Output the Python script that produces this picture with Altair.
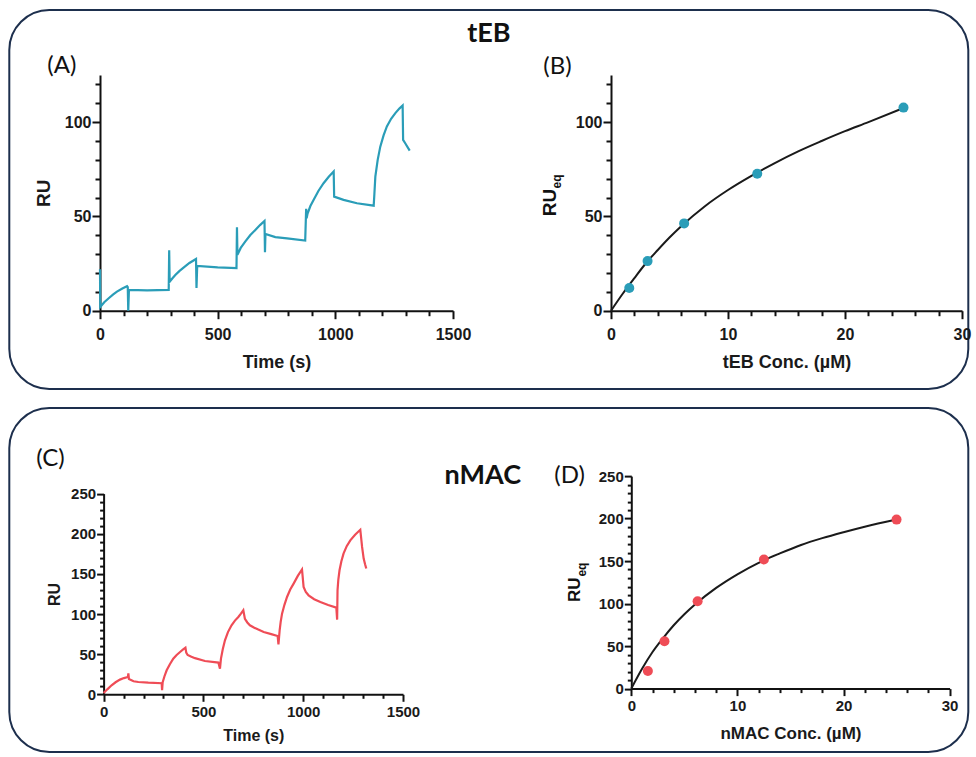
import altair as alt
import pandas as pd

TEAL = "#2a9db8"
RED = "#ef4c56"
FRAME = "#1d2f4d"
FONT = "Liberation Sans"
TFONT = "Lato"

group_titles = ["tEB", "nMAC"]
panel_labels = ["(A)", "(B)", "(C)", "(D)"]

# ---- Panel A: tEB sensorgram ----
a_time = [0, 1, 18, 37, 55, 72, 95, 115, 118, 120, 123, 200, 292,
          294, 296, 308, 320, 337, 355, 380, 408, 410, 413, 500, 580,
          582, 584, 598, 617, 638, 660, 680, 699, 701, 703, 745, 795, 872,
          876, 878, 882, 894, 908, 928, 950, 972, 993, 995, 1035, 1092, 1163,
          1166, 1170, 1180, 1191, 1205, 1219, 1237, 1255, 1272, 1286, 1288, 1297, 1316]
a_ru = [22, 2, 4.5, 6.6, 8.5, 10.1, 11.8, 13.0, 12.5, 0, 11, 10.8, 11,
        32, 15.4, 17.2, 18.9, 21, 22.8, 25.3, 27.4, 12, 23.7, 23.0, 22.6,
        44.3, 29.6, 33.3, 36.6, 40, 42.8, 45.4, 47.6, 31, 40.7, 39, 38.4, 37.2,
        54, 49, 51.5, 55.5, 58.8, 63.5, 67.6, 71, 73.8, 60.5, 58.8, 57, 55.7,
        62, 71.1, 80, 87, 93, 97.7, 101.8, 104.8, 107.2, 108.8, 90.6, 88.8, 84.9]

# ---- Panel B: tEB equilibrium ----
b_conc = [1.5625, 3.125, 6.25, 12.5, 25]
b_ru = [12.0, 26.3, 46.3, 72.6, 107.7]
b_fit_conc = [0, 1, 2, 3, 4, 5, 6, 8, 10, 12, 14, 16, 18, 20, 22, 25]
b_fit_ru = [0, 9, 17.3, 25.3, 32.2, 38.8, 44.8, 55.3, 64, 71.5, 78.3, 84.5, 90, 95.2, 100, 107.5]

# ---- Panel C: nMAC sensorgram ----
c_time = [0, 20, 40, 60, 82, 102, 122, 124, 127, 150, 174, 224, 291, 293,
          296, 305, 316, 332, 349, 366, 383, 397, 410, 414, 421, 440, 458, 508, 575, 583,
          588, 597, 608, 623, 641, 658, 675, 688, 700, 708, 720, 733, 755, 775, 802, 840, 872, 876,
          882, 887, 894, 906, 919, 935, 952, 973, 994, 1002, 1013, 1027, 1055, 1086, 1125, 1166, 1170,
          1172, 1176, 1182, 1191, 1202, 1218, 1236, 1260, 1286, 1295, 1303, 1310, 1316]
c_ru = [1.5, 6.5, 11.2, 15, 18.3, 20.2, 21.6, 26, 19, 16.3, 15.3, 14.5, 13.8, 5,
        15, 22.5, 29.9, 37.5, 44.4, 49, 52.7, 55.6, 58, 52, 49, 46.8, 45, 41.5, 39.5, 32,
        44.4, 56, 67.3, 77.5, 86, 91.8, 96.3, 100.5, 104.6, 94, 89.5, 86, 83, 80.6, 77.6, 75, 72.6, 62.3,
        79.7, 90, 100.5, 111.5, 121.2, 130.5, 137.9, 147.5, 155.5, 133.7, 127.5, 123.3, 118.5, 115, 111.3, 108, 93,
        129.5, 143, 154.5, 165.5, 175.2, 184.5, 191.8, 198.8, 205, 183.5, 169, 162, 156.6]

# ---- Panel D: nMAC equilibrium ----
d_conc = [1.5625, 3.125, 6.25, 12.5, 25]
d_ru = [20.8, 55.7, 102.7, 151.8, 198.8]
d_fit_conc = [0, 1, 2, 3, 4, 5, 6, 8, 10, 12, 14, 16, 18, 20, 22, 25]
d_fit_ru = [0, 23, 43, 59.5, 74.5, 87.5, 99, 118.5, 134.5, 148, 159, 169, 177, 184, 190.5, 199]

time_ticks = list(range(0, 1501, 100))
conc_ticks = list(range(0, 31, 2))
ru125_ticks = list(range(0, 121, 10))
ru250_ticks = list(range(0, 251, 10))

dfA = pd.DataFrame({"i": range(len(a_time)), "t": a_time, "ru": a_ru})
dfB = pd.DataFrame({"c": b_conc, "ru": b_ru})
dfBf = pd.DataFrame({"c": b_fit_conc, "ru": b_fit_ru})
dfC = pd.DataFrame({"i": range(len(c_time)), "t": c_time, "ru": c_ru})
dfD = pd.DataFrame({"c": d_conc, "ru": d_ru})
dfDf = pd.DataFrame({"c": d_fit_conc, "ru": d_fit_ru})
one = pd.DataFrame({"k": [0]})


def tick_axis(values, major, title, lsize, tsize, big, small, lpad, tpad, offset=0):
    return alt.Axis(
        values=values, format="d", title=title,
        labelExpr=f"datum.value % {major} === 0 ? datum.label : ''",
        tickSize={"condition": {"test": f"datum.value % {major} === 0", "value": big}, "value": small},
        labelFontSize=lsize, titleFontSize=tsize, labelPadding=lpad, titlePadding=tpad,
        labelFlush=False, labelOverlap=False, grid=False, offset=offset,
    )


def frame(x1, y1, x2, y2):
    return alt.Chart(one).mark_rect(
        fillOpacity=0, stroke=FRAME, strokeWidth=2, cornerRadius=40
    ).encode(x=alt.value(x1), x2=alt.value(x2), y=alt.value(y1), y2=alt.value(y2))


def label(text, x, y, size, weight="normal", align="left", font=TFONT, angle=0):
    return alt.Chart(one).mark_text(
        text=text, fontSize=size, fontWeight=weight, font=font, align=align,
        baseline="middle", angle=angle, color="#111111"
    ).encode(x=alt.value(x), y=alt.value(y))


# Panel A (also carries the figure frames and headings, relative to its origin)
lineA = alt.Chart(dfA).mark_line(color=TEAL, strokeWidth=2.2).encode(
    x=alt.X("t:Q", scale=alt.Scale(domain=[0, 1500]),
            axis=tick_axis(time_ticks, 500, "Time (s)", 16, 18, 8, 5, 8, 11)),
    y=alt.Y("ru:Q", scale=alt.Scale(domain=[0, 125]),
            axis=tick_axis(ru125_ticks, 50, "RU", 16, 19, 8, 5, 1, 11)),
    order="i:Q",
)
A = alt.layer(
    frame(-90.7, -65, 868.3, 314),
    frame(-90.7, 333, 868.3, 677),
    label(group_titles[0], 388.8, -41.5, 27, "bold", "center"),
    label(panel_labels[0], -52.7, -9, 24),
    label(panel_labels[1], 443.3, -8.5, 24),
    label(panel_labels[2], -63.7, 383.5, 24),
    label(group_titles[1], 382.8, 400.5, 27, "bold", "center"),
    label(panel_labels[3], 454.3, 400.5, 24),
    lineA,
).properties(width=353, height=235.7)

# Panel B
xB = alt.X("c:Q", scale=alt.Scale(domain=[0, 30]),
           axis=tick_axis(conc_ticks, 10, "tEB Conc. (µM)", 16, 18, 8, 5, 8, 11))
yB = alt.Y("ru:Q", scale=alt.Scale(domain=[0, 125]),
           axis=tick_axis(ru125_ticks, 50, None, 16, 18, 8, 5, 1, 10))
fitB = alt.Chart(dfBf).mark_line(color="#1a1a1a", strokeWidth=2, interpolate="monotone").encode(x=xB, y=yB)
ptsB = alt.Chart(dfB).mark_circle(color=TEAL, size=100, opacity=1).encode(x=xB, y=yB)
B = alt.layer(
    fitB, ptsB,
    label("RU", -61.2, 127.5, 19, "bold", "center", FONT, 270),
    label("eq", -54, 106.5, 12, "bold", "center", FONT, 270),
).properties(width=351, height=235.7)

# Panel C
lineC = alt.Chart(dfC).mark_line(color=RED, strokeWidth=2.2).encode(
    x=alt.X("t:Q", scale=alt.Scale(domain=[0, 1500], range=[3.6, 303]),
            axis=tick_axis(time_ticks, 500, "Time (s)", 15, 16, 7, 4, 3, 8)),
    y=alt.Y("ru:Q", scale=alt.Scale(domain=[0, 250], range=[218.2, 17.5]),
            axis=tick_axis(ru250_ticks, 50, "RU", 15, 16, 7, 4, 1, 8, -3.6)),
    order="i:Q",
)
C = alt.layer(lineC).properties(width=303, height=218.2)

# Panel D
xD = alt.X("c:Q", scale=alt.Scale(domain=[0, 30], range=[20.3, 338.6]),
           axis=tick_axis(conc_ticks, 10, "nMAC Conc. (µM)", 15, 17, 7, 4, 3, 12))
yD = alt.Y("ru:Q", scale=alt.Scale(domain=[0, 250]),
           axis=tick_axis(ru250_ticks, 50, None, 15, 16, 7, 4, 1, 8, -20.3))
fitD = alt.Chart(dfDf).mark_line(color="#1a1a1a", strokeWidth=2, interpolate="monotone").encode(x=xD, y=yD)
ptsD = alt.Chart(dfD).mark_circle(color=RED, size=100, opacity=1).encode(x=xD, y=yD)
D = alt.layer(
    fitD, ptsD,
    label("RU", -35.7, 113.7, 17, "bold", "center", FONT, 270),
    label("eq", -29.5, 93.5, 12, "bold", "center", FONT, 270),
).properties(width=338.6, height=212.5)

chart = alt.concat(
    A, B, C, D, columns=2, spacing={"row": 165.1, "column": 158},
    bounds="flush", align="each",
).properties(
    padding={"left": 8, "top": 9, "right": 2, "bottom": 0}
).configure_view(strokeWidth=0).configure_axis(
    domainColor="#111111", domainWidth=2, tickColor="#111111", tickWidth=2,
    labelFont=FONT, labelFontWeight="bold", labelColor="#1a1a1a",
    titleFont=FONT, titleFontWeight="bold", titleColor="#1a1a1a",
)

chart.save("out.html", embed_options={"renderer": "svg", "actions": False})
